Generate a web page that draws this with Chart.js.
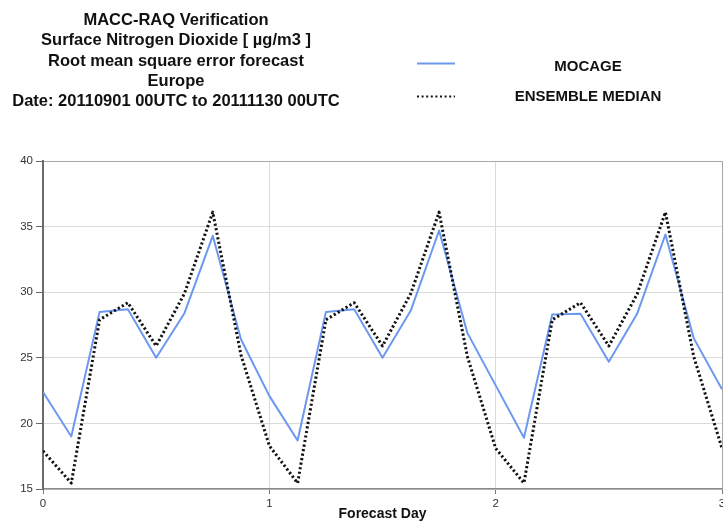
<!DOCTYPE html>
<html>
<head>
<meta charset="utf-8">
<title>MACC-RAQ Verification – NO2 RMSE</title>
<script src="https://cdn.jsdelivr.net/npm/chart.js@4/dist/chart.umd.min.js"></script>
<style>
  html, body { margin: 0; padding: 0; background: #fff; }
  #wrap { position: relative; width: 723px; height: 524px; }
</style>
</head>
<body>
<div id="wrap"><canvas id="chart" width="723" height="524"></canvas></div>
<script>
// Forecast lead time in hours (3-hourly steps over three days)
const leadHours = [0, 3, 6, 9, 12, 15, 18, 21, 24, 27, 30, 33, 36, 39, 42, 45, 48, 51, 54, 57, 60, 63, 66, 69, 72];

// RMSE of surface NO2 [µg/m3]
const mocage = [22.4, 19.0, 28.5, 28.7, 25.0, 28.4, 34.3, 26.4, 22.1,
                18.7, 28.5, 28.7, 25.0, 28.6, 34.7, 26.9, 22.9,
                18.9, 28.3, 28.35, 24.7, 28.35, 34.4, 26.5, 22.6];
const ensembleMedian = [17.9, 15.45, 27.9, 29.2, 25.9, 29.9, 36.1, 25.2, 18.3,
                        15.45, 27.9, 29.2, 25.9, 29.9, 36.1, 25.1, 18.1,
                        15.45, 27.9, 29.2, 25.9, 29.85, 36.1, 25.1, 18.1];

const seriesNames = ['MOCAGE', 'ENSEMBLE MEDIAN'];
const titleLines = [
  'MACC-RAQ Verification',
  'Surface Nitrogen Dioxide [ µg/m3 ]',
  'Root mean square error forecast',
  'Europe',
  'Date: 20110901 00UTC to 20111130 00UTC'
];
const xTicks = [0, 1, 2, 3];
const yTicks = [15, 20, 25, 30, 35, 40];

const FONT = '"Liberation Sans", Arial, Helvetica, sans-serif';
Chart.defaults.font.family = FONT;

const toPoints = vals => vals.map((v, i) => ({ x: leadHours[i] / 24, y: v }));

// Header block: stacked centred title and a two-row legend with line samples
const headerPlugin = {
  id: 'header',
  afterDraw(chart) {
    const ctx = chart.ctx;
    ctx.save();
    ctx.fillStyle = '#111';
    ctx.textAlign = 'center';
    ctx.textBaseline = 'alphabetic';
    ctx.font = 'bold 16.5px ' + FONT;
    titleLines.forEach((t, i) => ctx.fillText(t, 176, 25 + i * 20.3));

    const rows = [
      { lineY: 63.5, textY: 70.5 },
      { lineY: 96.5, textY: 101 }
    ];
    chart.data.datasets.forEach((ds, i) => {
      const r = rows[i];
      ctx.beginPath();
      ctx.strokeStyle = ds.borderColor;
      ctx.lineWidth = 2;
      ctx.lineCap = 'butt';
      ctx.setLineDash(ds.borderDash && ds.borderDash.length ? [2, 2.6] : []);
      ctx.moveTo(417, r.lineY);
      ctx.lineTo(455, r.lineY);
      ctx.stroke();
      ctx.setLineDash([]);
      ctx.font = 'bold 15px ' + FONT;
      ctx.fillStyle = '#111';
      ctx.fillText(ds.label, 588, r.textY);
    });
    ctx.restore();
  }
};

new Chart(document.getElementById('chart'), {
  type: 'line',
  data: {
    datasets: [
      {
        label: seriesNames[0],
        data: toPoints(mocage),
        borderColor: 'rgb(108,152,238)',
        borderWidth: 2,
        borderJoinStyle: 'round',
        pointRadius: 0,
        tension: 0,
        order: 1
      },
      {
        label: seriesNames[1],
        data: toPoints(ensembleMedian),
        borderColor: '#111',
        borderWidth: 3,
        borderDash: [2.2, 2.4],
        borderJoinStyle: 'round',
        pointRadius: 0,
        tension: 0,
        order: 0
      }
    ]
  },
  options: {
    responsive: false,
    animation: false,
    devicePixelRatio: 1,
    layout: { padding: { top: 161, right: 1, left: 0, bottom: 0 } },
    plugins: {
      legend: { display: false },
      title: { display: false },
      tooltip: { enabled: false }
    },
    scales: {
      x: {
        type: 'linear',
        min: 0,
        max: 3,
        afterBuildTicks: s => { s.ticks = xTicks.map(v => ({ value: v })); },
        afterFit: s => { s.height = 35; s.paddingLeft = 0; s.paddingRight = 0; },
        ticks: {
          color: '#333',
          font: { size: 11.5 },
          padding: 3,
          maxRotation: 0,
          autoSkip: false
        },
        grid: {
          color: ctx => (ctx.tick && ctx.tick.value === 3) ? '#a8a8a8' : '#dadada',
          tickColor: '#777',
          tickLength: 5,
          lineWidth: 1
        },
        border: { color: '#8a8a8a', width: 1.5 },
        title: {
          display: true,
          text: 'Forecast Day',
          color: '#111',
          font: { size: 14, weight: 'bold' },
          padding: { top: 0, bottom: 1 }
        }
      },
      y: {
        min: 15,
        max: 40,
        afterBuildTicks: s => { s.ticks = yTicks.map(v => ({ value: v })); },
        afterFit: s => { s.width = 43; },
        ticks: {
          color: '#333',
          font: { size: 11.5 },
          padding: 3
        },
        grid: {
          color: ctx => (ctx.tick && ctx.tick.value === 40) ? '#a8a8a8' : '#dadada',
          tickColor: '#666',
          tickLength: 7,
          lineWidth: 1
        },
        border: { color: '#6a6a6a', width: 2 }
      }
    }
  },
  plugins: [headerPlugin]
});
</script>
</body>
</html>
